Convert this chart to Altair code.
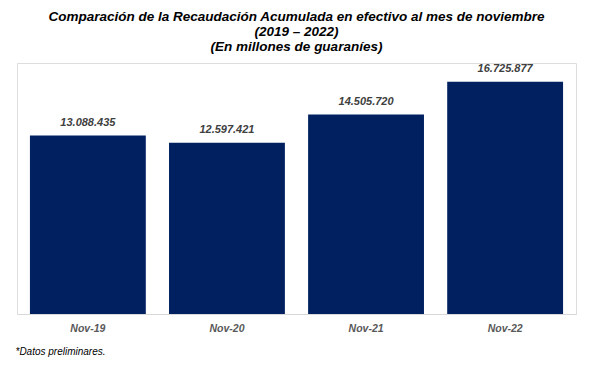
import altair as alt
import pandas as pd

categories = ["Nov-19", "Nov-20", "Nov-21", "Nov-22"]
values = [13088435, 12597421, 14505720, 16725877]
labels = [f"{v:,}".replace(",", ".") for v in values]

df = pd.DataFrame({"mes": categories, "valor": values, "etiqueta": labels})

FONT = "Liberation Sans"

base = alt.Chart(df).encode(
    x=alt.X(
        "mes:N",
        sort=categories,
        scale=alt.Scale(paddingInner=0.167, paddingOuter=0.093),
        axis=alt.Axis(
            title="*Datos preliminares.",
            titleFont=FONT,
            titleFontSize=10,
            titleFontStyle="italic",
            titleFontWeight="normal",
            titleColor="#000000",
            titleAnchor="start",
            titleAlign="left",
            titleBaseline="middle",
            titleX=-2,
            titleY=37,
            labelFont=FONT,
            labelFontSize=10.5,
            labelFontStyle="italic",
            labelFontWeight="bold",
            labelColor="#595959",
            labelAngle=0,
            labelPadding=9,
            ticks=False,
            domainColor="#d9d9d9",
            domainWidth=1,
        ),
    ),
    y=alt.Y(
        "valor:Q",
        scale=alt.Scale(domain=[1000000, 18000000], clamp=True, zero=False),
        axis=None,
    ),
)

bars = base.mark_bar(color="#002060")
text = base.mark_text(
    font=FONT,
    fontSize=11,
    fontStyle="italic",
    fontWeight="bold",
    color="#404040",
    baseline="middle",
    dy=-13,
).encode(text="etiqueta:N")

chart = (
    (bars + text)
    .properties(
        width=559,
        height=251,
        title=alt.TitleParams(
            text=[
                "Comparación de la Recaudación Acumulada en efectivo al mes de noviembre",
                "(2019 – 2022)",
                "(En millones de guaraníes)",
            ],
            font=FONT,
            fontSize=13.5,
            fontStyle="italic",
            fontWeight="bold",
            color="#000000",
            anchor="middle",
            lineHeight=15,
            offset=9,
        ),
        autosize=alt.AutoSizeParams(type="none"),
        padding={"left": 9, "top": 55, "right": 8, "bottom": 50},
    )
    .configure_view(stroke=None)
    .configure(background="white")
)

chart.save("out.html", embed_options={"renderer": "svg", "actions": False})
